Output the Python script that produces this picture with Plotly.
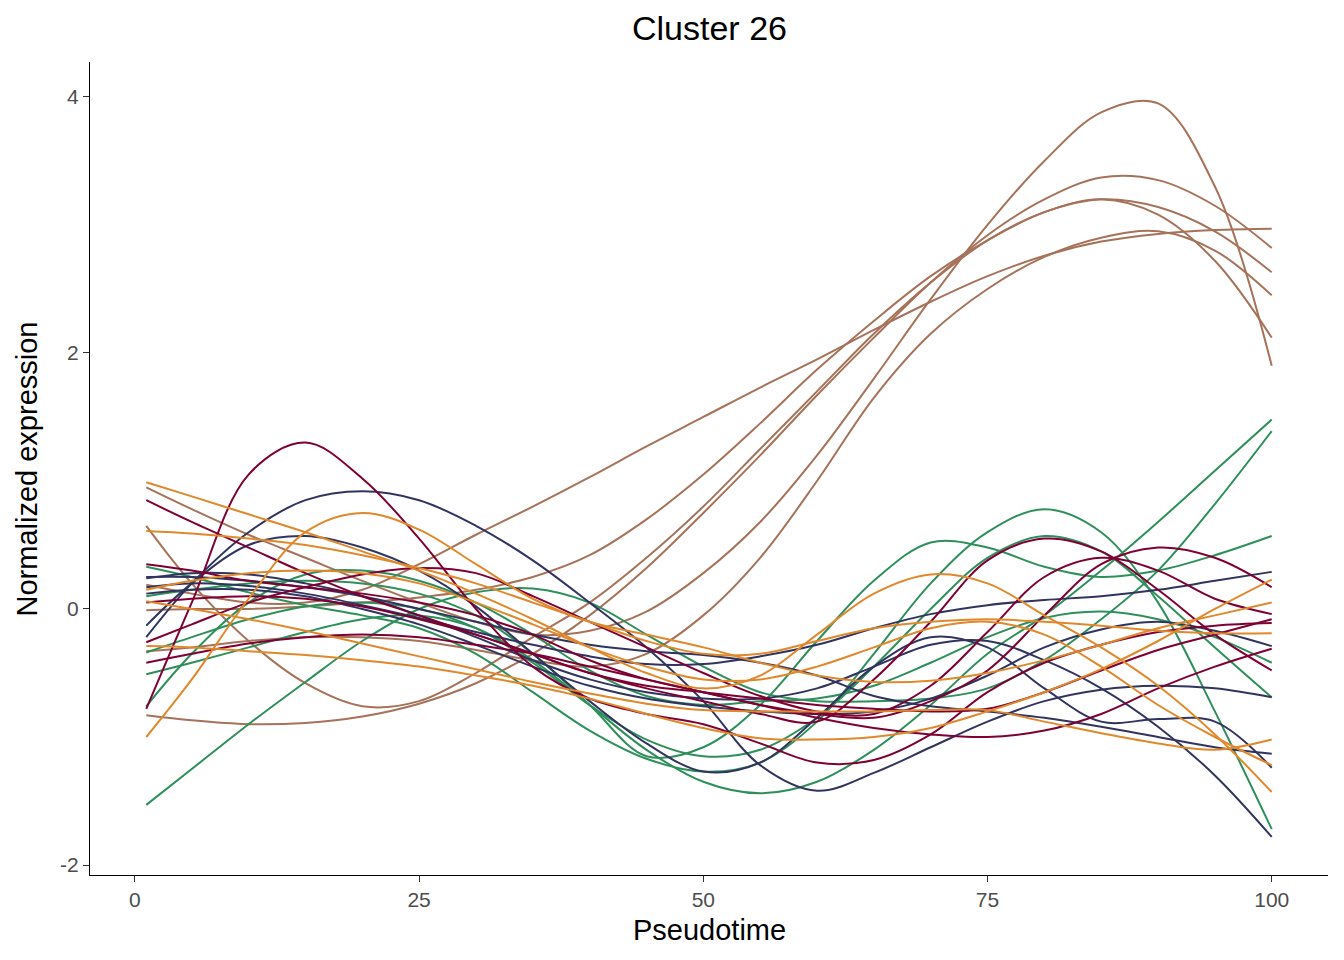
import plotly.graph_objects as go

# Pseudotime knots shared by all genes
pseudotime = [1, 5, 10, 15, 20, 25, 30, 35, 40, 45, 50, 55, 60, 65, 70, 75, 80, 85, 90, 95, 100]

# Axis ticks
x_ticks = [0, 25, 50, 75, 100]
y_ticks = [-2, 0, 2, 4]
y_tick_labels = ["-2", "0", "2", "4"]

# Brown group
brown_1 = [0.19, 0.12, 0.05, 0.05, 0.15, 0.35, 0.58, 0.80, 1.03, 1.27, 1.50, 1.73, 1.95, 2.18, 2.40, 2.60, 2.76, 2.87, 2.93, 2.96, 2.97]
brown_2 = [-0.01, 0.0, 0.0, 0.02, 0.05, 0.09, 0.15, 0.25, 0.42, 0.70, 1.05, 1.45, 1.87, 2.25, 2.60, 2.88, 3.10, 3.20, 3.14, 2.95, 2.63]
brown_3 = [0.65, 0.20, -0.25, -0.58, -0.76, -0.72, -0.50, -0.22, 0.05, 0.40, 0.80, 1.25, 1.70, 2.15, 2.55, 2.88, 3.10, 3.20, 3.08, 2.72, 2.12]
brown_4 = [-0.83, -0.87, -0.90, -0.89, -0.84, -0.74, -0.58, -0.35, -0.05, 0.32, 0.75, 1.20, 1.67, 2.12, 2.55, 2.92, 3.20, 3.37, 3.35, 3.15, 2.82]
brown_5 = [0.95, 0.78, 0.58, 0.40, 0.22, 0.05, -0.10, -0.20, -0.17, -0.02, 0.28, 0.68, 1.20, 1.80, 2.42, 3.00, 3.50, 3.88, 3.95, 3.30, 1.90]
brown_6 = [-0.33, -0.30, -0.25, -0.22, -0.22, -0.25, -0.32, -0.40, -0.45, -0.35, -0.05, 0.40, 1.00, 1.65, 2.15, 2.50, 2.75, 2.90, 2.95, 2.80, 2.45]

# Green group
green_1 = [-1.53, -1.25, -0.90, -0.57, -0.25, 0.0, 0.13, 0.16, 0.05, -0.20, -0.45, -0.65, -0.72, -0.72, -0.70, -0.62, -0.40, -0.08, 0.30, 0.82, 1.39]
green_2 = [0.33, 0.25, 0.13, 0.03, -0.05, -0.15, -0.35, -0.65, -0.95, -1.17, -1.27, -1.20, -0.88, -0.35, 0.20, 0.60, 0.78, 0.60, 0.05, -0.80, -1.72]
green_3 = [0.10, 0.15, 0.20, 0.22, 0.20, 0.12, -0.05, -0.35, -0.75, -1.15, -1.08, -0.75, -0.25, 0.22, 0.52, 0.48, 0.33, 0.25, 0.30, 0.42, 0.57]
green_4 = [-0.34, -0.22, -0.08, 0.02, 0.05, 0.0, -0.15, -0.42, -0.75, -1.02, -1.15, -1.10, -0.85, -0.45, 0.0, 0.40, 0.57, 0.45, 0.10, -0.30, -0.69]
green_5 = [-0.51, -0.42, -0.30, -0.18, -0.08, -0.05, -0.15, -0.40, -0.75, -1.10, -1.35, -1.44, -1.35, -1.10, -0.75, -0.35, -0.05, 0.30, 0.68, 1.08, 1.48]
green_6 = [-0.76, -0.35, 0.05, 0.27, 0.30, 0.22, 0.05, -0.20, -0.48, -0.68, -0.75, -0.72, -0.70, -0.60, -0.42, -0.22, -0.07, -0.02, -0.08, -0.22, -0.42]

# Navy group
navy_1 = [-0.22, 0.20, 0.60, 0.85, 0.92, 0.85, 0.65, 0.38, 0.05, -0.30, -0.72, -1.22, -1.42, -1.28, -1.08, -0.88, -0.72, -0.63, -0.60, -0.62, -0.69]
navy_2 = [-0.13, 0.20, 0.50, 0.57, 0.48, 0.30, 0.02, -0.35, -0.72, -1.05, -1.27, -1.20, -0.85, -0.45, -0.22, -0.30, -0.62, -0.88, -0.86, -0.88, -1.24]
navy_3 = [0.25, 0.25, 0.22, 0.17, 0.10, 0.0, -0.10, -0.20, -0.28, -0.33, -0.36, -0.42, -0.52, -0.68, -0.76, -0.80, -0.85, -0.92, -1.00, -1.08, -1.13]
navy_4 = [0.17, 0.20, 0.18, 0.12, 0.03, -0.07, -0.18, -0.28, -0.37, -0.43, -0.43, -0.37, -0.28, -0.15, -0.04, 0.03, 0.07, 0.10, 0.15, 0.22, 0.29]
navy_5 = [0.24, 0.28, 0.27, 0.20, 0.10, -0.05, -0.22, -0.40, -0.55, -0.65, -0.70, -0.70, -0.62, -0.45, -0.28, -0.25, -0.40, -0.62, -0.92, -1.30, -1.78]
navy_6 = [0.12, 0.15, 0.15, 0.10, 0.0, -0.12, -0.28, -0.45, -0.60, -0.70, -0.76, -0.80, -0.82, -0.80, -0.70, -0.52, -0.30, -0.16, -0.10, -0.17, -0.29]

# Dark red group
red_1 = [-0.78, 0.05, 1.05, 1.30, 1.02, 0.55, 0.0, -0.45, -0.70, -0.82, -0.90, -1.05, -1.20, -1.18, -0.98, -0.65, -0.42, -0.28, -0.18, -0.13, -0.11]
red_2 = [0.85, 0.68, 0.48, 0.28, 0.10, -0.05, -0.20, -0.35, -0.50, -0.62, -0.72, -0.82, -0.88, -0.55, -0.10, 0.38, 0.55, 0.45, 0.15, -0.20, -0.48]
red_3 = [0.35, 0.30, 0.22, 0.17, 0.12, 0.05, -0.05, -0.20, -0.40, -0.55, -0.65, -0.75, -0.82, -0.85, -0.72, -0.48, -0.05, 0.35, 0.48, 0.40, 0.17]
red_4 = [-0.26, -0.12, 0.05, 0.17, 0.27, 0.32, 0.28, 0.10, -0.10, -0.30, -0.50, -0.68, -0.80, -0.82, -0.60, -0.18, 0.25, 0.40, 0.30, 0.08, -0.04]
red_5 = [-0.42, -0.35, -0.27, -0.22, -0.20, -0.22, -0.28, -0.35, -0.45, -0.55, -0.65, -0.75, -0.85, -0.93, -0.98, -1.00, -0.95, -0.82, -0.62, -0.45, -0.31]
red_6 = [0.05, 0.08, 0.10, 0.08, 0.02, -0.08, -0.20, -0.35, -0.50, -0.60, -0.65, -0.70, -0.75, -0.78, -0.80, -0.78, -0.65, -0.48, -0.32, -0.20, -0.08]

# Orange group
orange_1 = [-1.00, -0.55, 0.08, 0.60, 0.75, 0.62, 0.35, 0.08, -0.10, -0.20, -0.30, -0.42, -0.52, -0.57, -0.56, -0.50, -0.40, -0.28, -0.15, -0.05, 0.05]
orange_2 = [0.99, 0.88, 0.74, 0.60, 0.45, 0.30, 0.12, -0.08, -0.30, -0.50, -0.62, -0.52, -0.20, 0.12, 0.27, 0.20, -0.05, -0.30, -0.60, -0.98, -1.43]
orange_3 = [0.61, 0.59, 0.55, 0.50, 0.42, 0.32, 0.20, 0.05, -0.10, -0.25, -0.35, -0.35, -0.25, -0.15, -0.10, -0.08, -0.10, -0.13, -0.17, -0.19, -0.19]
orange_4 = [0.15, 0.22, 0.28, 0.30, 0.28, 0.20, 0.05, -0.12, -0.30, -0.45, -0.55, -0.55, -0.45, -0.30, -0.15, -0.10, -0.20, -0.45, -0.75, -1.00, -1.22]
orange_5 = [0.06, 0.0, -0.08, -0.17, -0.27, -0.37, -0.47, -0.57, -0.66, -0.74, -0.79, -0.80, -0.80, -0.80, -0.79, -0.79, -0.88, -0.97, -1.05, -1.10, -1.02]
orange_6 = [-0.29, -0.30, -0.33, -0.36, -0.40, -0.45, -0.52, -0.60, -0.70, -0.82, -0.93, -1.01, -1.02, -1.00, -0.93, -0.80, -0.65, -0.47, -0.25, 0.0, 0.23]

BROWN = "#A6725A"
GREEN = "#2F8F5B"
NAVY = "#30345E"
RED = "#7F0033"
ORANGE = "#E0882C"

groups = [
    (BROWN, [brown_1, brown_2, brown_3, brown_4, brown_5, brown_6]),
    (GREEN, [green_1, green_2, green_3, green_4, green_5, green_6]),
    (NAVY, [navy_1, navy_2, navy_3, navy_4, navy_5, navy_6]),
    (RED, [red_1, red_2, red_3, red_4, red_5, red_6]),
    (ORANGE, [orange_1, orange_2, orange_3, orange_4, orange_5, orange_6]),
]

fig = go.Figure()
for color, curves in groups:
    for ys in curves:
        fig.add_trace(go.Scatter(
            x=pseudotime, y=ys, mode="lines",
            line=dict(color=color, width=2.0, shape="spline", smoothing=1.0),
            showlegend=False, hoverinfo="skip",
        ))

FONT = "Liberation Sans, Arial, sans-serif"
axis_common = dict(
    showline=True, linecolor="black", linewidth=1.3,
    ticks="outside", ticklen=6, tickwidth=1.2, tickcolor="#333333",
    showgrid=False, zeroline=False, automargin=False,
    tickfont=dict(family=FONT, size=21, color="#4D4D4D"),
)

# The page body adds an 8px offset, so the figure is sized to fit the window.
fig.update_layout(
    width=1336, height=952,
    paper_bgcolor="white", plot_bgcolor="white",
    margin=dict(l=82, r=16, t=54, b=85),
    xaxis=dict(range=[-3.95, 104.95], tickvals=x_ticks, **axis_common),
    yaxis=dict(range=[-2.078, 4.273], tickvals=y_ticks, ticktext=y_tick_labels, **axis_common),
    annotations=[
        dict(text="Cluster 26", xref="paper", yref="paper", x=0.5, y=1.0418,
             xanchor="center", yanchor="middle", showarrow=False,
             font=dict(family=FONT, size=34, color="black")),
        dict(text="Pseudotime", xref="paper", yref="paper", x=0.5, y=-0.0677,
             xanchor="center", yanchor="middle", showarrow=False,
             font=dict(family=FONT, size=29, color="black")),
        dict(text="Normalized expression", xref="paper", yref="paper", x=-0.0509, y=0.5,
             xanchor="center", yanchor="middle", showarrow=False, textangle=-90,
             font=dict(family=FONT, size=29, color="black")),
    ],
)

fig.write_html("out.html")
